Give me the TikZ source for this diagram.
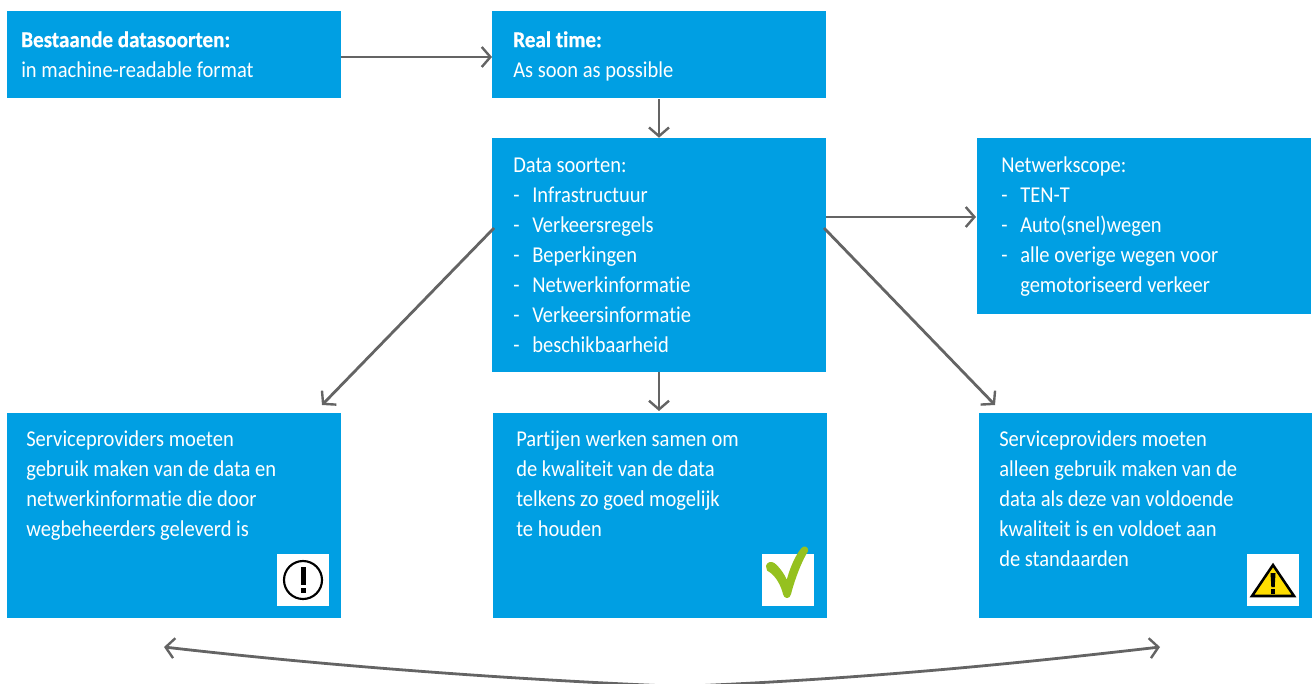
\documentclass[tikz,border=0pt]{standalone}
\usepackage{fontspec}
\setmainfont[FakeStretch=0.905,Ligatures=NoCommon,BoldFeatures={FakeStretch=0.93,FakeBold=0.6}]{Carlito}
\usetikzlibrary{arrows.meta}
\definecolor{rwsblue}{HTML}{009FE3}
\definecolor{arrowgrey}{HTML}{646464}
\definecolor{tickgreen}{HTML}{95C11F}
\definecolor{warnyellow}{HTML}{FFDD00}
\def\px{0.75pt}
\newcommand{\itm}[1]{\makebox[14.25pt][l]{-}#1}
\tikzset{
  bluebox/.style={fill=rwsblue,draw=none,inner sep=0pt,minimum width=#1*\px},
  boxtext/.style={text=white,anchor=north west,inner sep=0pt,align=left,
    font=\fontsize{17}{22.5}\selectfont},
  conn/.style={draw=arrowgrey,line width=2.1pt,-{Straight Barb[length=6.5pt,width=15pt,line width=1.8pt]}},
  conntwo/.style={draw=arrowgrey,line width=2.1pt,{Straight Barb[length=6.5pt,width=15pt,line width=1.8pt]}-{Straight Barb[length=6.5pt,width=15pt,line width=1.8pt]}},
  iconbox/.style={fill=white,draw=none,inner sep=0pt,minimum width=52*\px,minimum height=52*\px},
}
\begin{document}
\begin{tikzpicture}[x=0.75pt,y=-0.75pt]
\useasboundingbox (0,0) rectangle (1312,684);
\clip (0,0) rectangle (1312,684);
% boxes
\node[bluebox=334,minimum height=87.5*\px] (bestaand) at (174,54.75) {};
\node[bluebox=334,minimum height=87.5*\px] (realtime) at (659,54.75) {};
\node[bluebox=334,minimum height=234*\px] (soorten) at (659,255) {};
\node[bluebox=334,minimum height=176*\px] (scope) at (1144,226) {};
\node[bluebox=334,minimum height=205*\px] (spa) at (174,515.5) {};
\node[bluebox=334,minimum height=205*\px] (spb) at (660,515.5) {};
\node[bluebox=333,minimum height=205*\px] (spc) at (1145.5,515.5) {};
% texts
\node[boxtext] (tbestaand) at (21,31) {\textbf{Bestaande datasoorten:}\\in machine-readable format};
\node[boxtext] (trealtime) at (513,31) {\textbf{Real time:}\\As soon as possible};
\node[boxtext] (tsoorten) at (513,158) {Data soorten:\\\itm{Infrastructuur}\\\itm{Verkeersregels}\\\itm{Beperkingen}\\\itm{Netwerkinformatie}\\\itm{Verkeersinformatie}\\\itm{beschikbaarheid}};
\node[boxtext] (tscope) at (1001,156) {Netwerkscope:\\\itm{TEN-T}\\\itm{Auto(snel)wegen}\\\itm{alle overige wegen voor}\\\hspace*{14.25pt}gemotoriseerd verkeer};
\node[boxtext] (tspa) at (26,430) {Serviceproviders moeten\\gebruik maken van de data en\\netwerkinformatie die door\\wegbeheerders geleverd is};
\node[boxtext] (tspb) at (516,430) {Partijen werken samen om\\de kwaliteit van de data\\telkens zo goed mogelijk\\te houden};
\node[boxtext] (tspc) at (999,430) {Serviceproviders moeten\\alleen gebruik maken van de\\data als deze van voldoende\\kwaliteit is en voldoet aan\\de standaarden};
% icons
\node[iconbox] (iconA) at (303,580) {};
\node[iconbox] (iconB) at (788,580) {};
\node[iconbox] (iconC) at (1273,580) {};
\draw[black,line width=1.6pt] (iconA) circle (19);
\fill[black] (300.5,567) rectangle (305.5,585);
\fill[black] (300.5,588) rectangle (305.5,593);
\fill[tickgreen,line join=round,draw=tickgreen,line width=1.5pt]
  (767,566) .. controls (768,563) and (771,562) .. (774,564)
  .. controls (780,569) and (785,577) .. (787,583)
  .. controls (790,570) and (796,556) .. (802,549)
  .. controls (804,546) and (808,548) .. (807,551)
  .. controls (800,562) and (793,582) .. (790,594)
  .. controls (789,598) and (785,598) .. (784,594)
  .. controls (782,585) and (776,574) .. (768,570) -- cycle;
\draw[black,fill=warnyellow,line width=1.9pt,line join=miter] (1273,565) -- (1294,596) -- (1252,596) -- cycle;
\fill[black] (1270.5,573) -- (1275.5,573) -- (1274.7,587) -- (1271.3,587) -- cycle;
\fill[black] (1271,589) rectangle (1275,594);
% connector ends
\coordinate (topL) at (341,57);
\coordinate (topR) at (492,57);
\coordinate (dlstart) at (494,228);
\coordinate (dlend) at (322,405);
\coordinate (drstart) at (824,228);
\coordinate (drend) at (995,405);
\coordinate (scopein) at (976,217);
\coordinate (soortenr) at (826,217);
\coordinate (belowsoorten) at (659,411);
\coordinate (curveL) at (164,647);
\coordinate (curveM) at (680,686.5);
\coordinate (curveR) at (1160,647);
% connectors
\draw[conn] (topL) -- (topR);
\draw[conn] (realtime.south) -- (soorten.north);
\draw[conn] (soortenr) -- (scopein);
\draw[conn] (dlstart) -- (dlend);
\draw[conn] (drstart) -- (drend);
\draw[conn] (soorten.south) -- (belowsoorten);
\draw[conntwo] (curveL) .. controls (320,665) and (500,679) .. (curveM)
  .. controls (860,679) and (1004,665) .. (curveR);
\end{tikzpicture}
\end{document}
